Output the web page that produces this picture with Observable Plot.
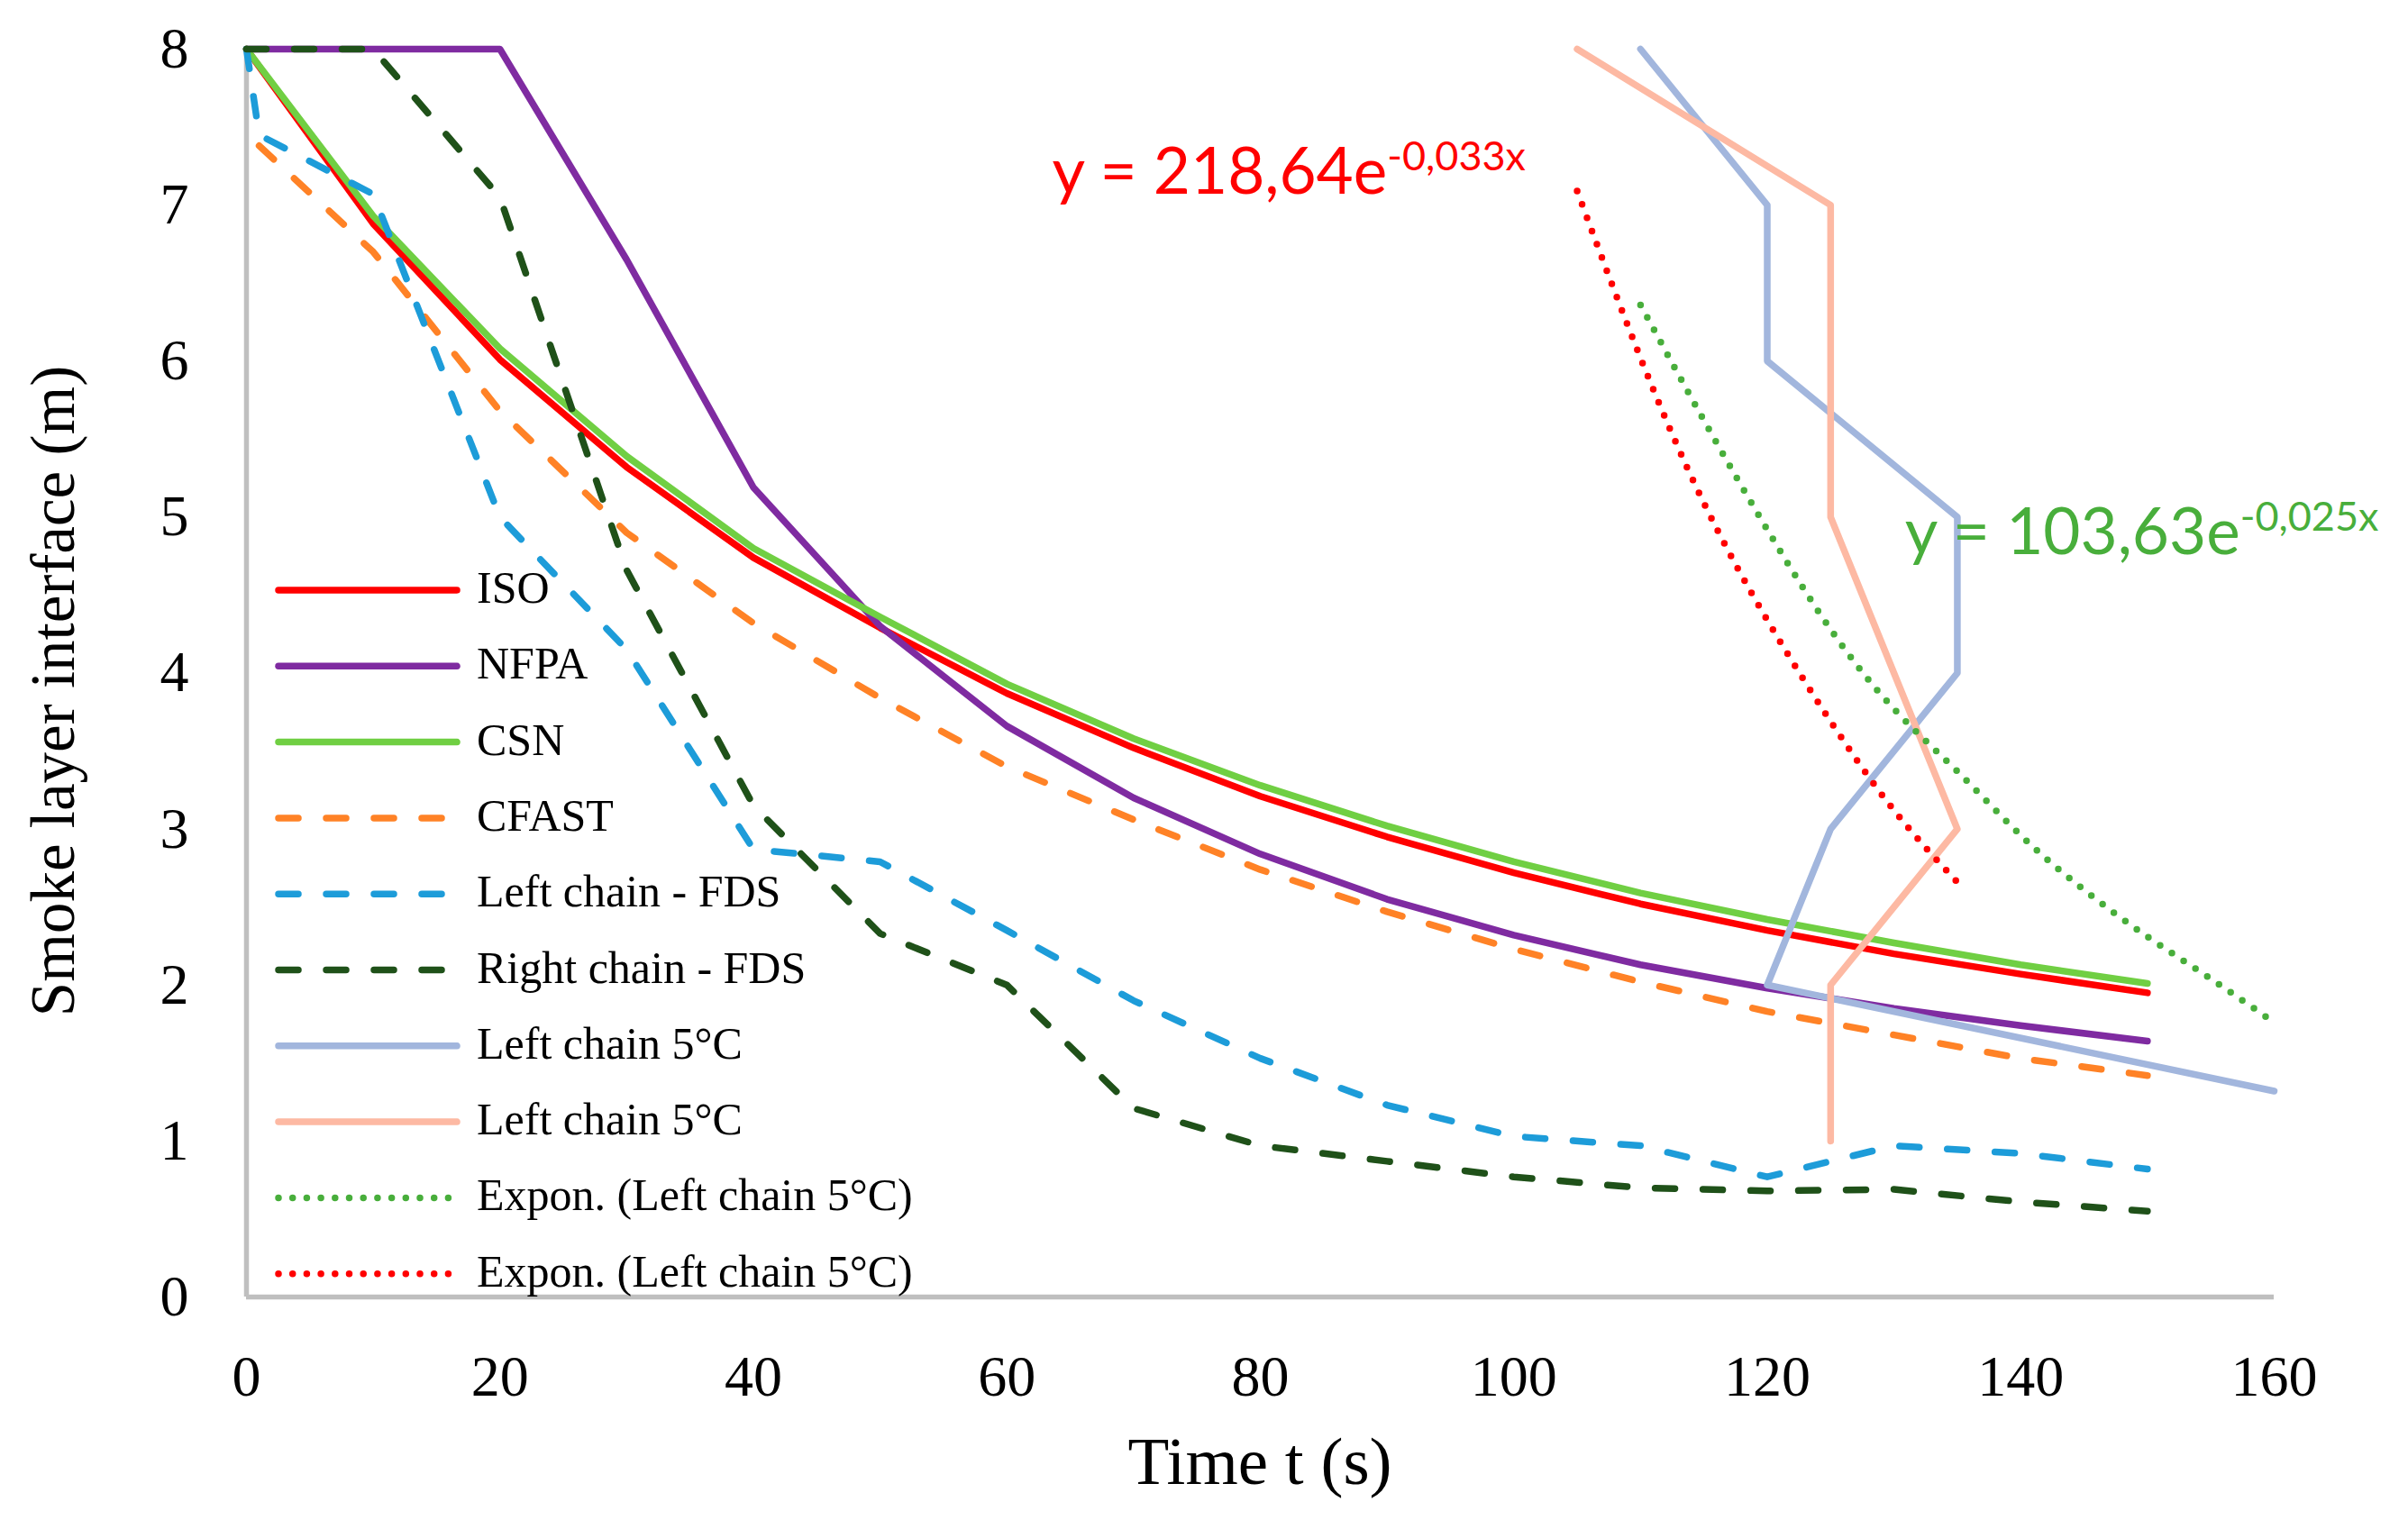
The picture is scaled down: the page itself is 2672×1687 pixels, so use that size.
<!DOCTYPE html>
<html>
<head>
<meta charset="utf-8">
<script src="https://cdn.jsdelivr.net/npm/d3@7"></script>
<script src="https://cdn.jsdelivr.net/npm/@observablehq/plot@0.6"></script>
<style>
  html, body { margin: 0; padding: 0; background: #ffffff; overflow: hidden; }
  #chart svg { display: block; }
</style>
</head>
<body>
<div id="chart"></div>
<script>
// ---------- data ----------
const timeStd   = [0, 10, 20, 30, 40, 50, 60, 70, 80, 90, 100, 110, 120, 130, 140, 150];
const isoY      = [8, 6.88, 6.01, 5.32, 4.74, 4.29, 3.87, 3.52, 3.21, 2.95, 2.72, 2.52, 2.35, 2.20, 2.07, 1.95];
const nfpaY     = [8, 8, 8, 6.65, 5.19, 4.30, 3.66, 3.20, 2.84, 2.55, 2.32, 2.13, 1.98, 1.85, 1.74, 1.64];
const csnY      = [8, 6.93, 6.08, 5.39, 4.80, 4.36, 3.93, 3.58, 3.28, 3.02, 2.79, 2.59, 2.42, 2.27, 2.13, 2.01];
const cfastT    = [1, 10, 20, 30, 40, 50, 60, 70, 80, 90, 100, 110, 120, 130, 140, 150];
const cfastY    = [7.38, 6.70, 5.68, 4.90, 4.32, 3.84, 3.40, 3.06, 2.74, 2.47, 2.23, 2.02, 1.83, 1.68, 1.53, 1.42];
const leftFdsT  = [0, 1, 10, 20, 30, 40, 50, 60, 70, 80, 90, 100, 110, 120, 130, 140, 150];
const leftFdsY  = [8, 7.45, 7.07, 5.00, 4.15, 2.87, 2.79, 2.35, 1.90, 1.53, 1.23, 1.03, 0.97, 0.77, 0.97, 0.92, 0.82];
const rightFdsY = [8, 8, 7.05, 4.66, 3.15, 2.33, 2.00, 1.21, 0.97, 0.87, 0.77, 0.70, 0.68, 0.69, 0.61, 0.55];
const left5BlueT = [110, 120, 120, 135, 135, 125, 120, 160];
const left5BlueY = [8, 7, 6, 5, 4, 3, 2, 1.32];
const left5SalmonT = [105, 125, 125, 135, 125, 125];
const left5SalmonY = [8, 7, 5, 3, 2, 1];
const expGreenT = [110, 115, 120, 125, 130, 135, 140, 145, 150, 155, 160];
const expGreenY = [6.36, 5.62, 4.92, 4.28, 3.77, 3.37, 2.96, 2.61, 2.31, 2.04, 1.76];
const expRedT   = [105, 110, 115, 120, 125, 130, 135];
const expRedY   = [7.09, 6.02, 5.09, 4.34, 3.69, 3.12, 2.66];

const xTicks = [0, 20, 40, 60, 80, 100, 120, 140, 160];
const yTicks = [0, 1, 2, 3, 4, 5, 6, 7, 8];

const seriesNames = ["ISO", "NFPA", "CSN", "CFAST", "Left chain - FDS", "Right chain - FDS",
                     "Left chain 5°C", "Left chain 5°C", "Expon. (Left chain 5°C)", "Expon. (Left chain 5°C)"];
const seriesColors = ["#ff0000", "#7f2ba1", "#70cf43", "#ff8226", "#1d9cd9", "#1f5119",
                      "#a2b6dd", "#fdb9a3", "#48ae3b", "#ff0000"];
const seriesStyles = ["solid", "solid", "solid", "dash", "dash", "dash", "solid", "solid", "dot", "dot"];

const equations = [
  { base: "y = 218,64e", sup: "-0,033x", t: 63.6, y: 7.07, color: "#ff0000" },
  { base: "y = 103,63e", sup: "-0,025x", t: 130.9, y: 4.76, color: "#48ae3b" }
];

// ---------- build ----------
const W = 2672, H = 1687;
const SW = 7.5;
const dashArr = {solid: null, dash: "22,31", dot: "0,15.7"};
const serif = "'Liberation Serif', 'DejaVu Serif', serif";

function pts(ts, ys) { return ts.map((t, i) => ({ t, y: ys[i] })); }
const seriesData = [
  pts(timeStd, isoY), pts(timeStd, nfpaY), pts(timeStd, csnY), pts(cfastT, cfastY),
  pts(leftFdsT, leftFdsY), pts(timeStd, rightFdsY), pts(left5BlueT, left5BlueY),
  pts(left5SalmonT, left5SalmonY), pts(expGreenT, expGreenY), pts(expRedT, expRedY)
];

const lineMarks = seriesData.map((d, i) => Plot.line(d, {
  x: "t", y: "y",
  stroke: seriesColors[i],
  strokeWidth: SW,
  strokeDasharray: dashArr[seriesStyles[i]],
  strokeLinecap: "round",
  strokeLinejoin: "round",
  curve: seriesStyles[i] === "dot" ? "natural" : "linear"
}));

const chart = Plot.plot({
  width: W, height: H,
  marginLeft: 273, marginRight: 149, marginTop: 54, marginBottom: 248,
  style: { fontFamily: serif, background: "#ffffff", color: "#000000", overflow: "visible" },
  x: { domain: [0, 160], label: null },
  y: { domain: [0, 8], label: null },
  marks: [
    Plot.axisX(xTicks, { tickSize: 0, tickPadding: 64, fontSize: 64, label: null, tickFormat: d => String(d) }),
    Plot.axisY(yTicks, { tickSize: 0, tickPadding: 64, fontSize: 64, label: null, tickFormat: d => String(d) }),
    Plot.ruleY([0], { stroke: "#bfbfbf", strokeWidth: 5.5 }),
    Plot.ruleX([0], { stroke: "#bfbfbf", strokeWidth: 5.5 }),
    ...lineMarks
  ]
});

document.getElementById("chart").appendChild(chart);
const svg = d3.select(chart);
const sx = chart.scale("x"), sy = chart.scale("y");

// axis titles
svg.append("text")
  .attr("x", (sx.apply(0) + sx.apply(160)) / 2).attr("y", 1647)
  .attr("text-anchor", "middle")
  .attr("font-family", serif)
  .attr("font-size", 75).attr("fill", "#000")
  .text("Time t (s)");
svg.append("text")
  .attr("transform", "translate(82,767) rotate(-90)")
  .attr("text-anchor", "middle")
  .attr("font-family", serif)
  .attr("font-size", 69).attr("fill", "#000")
  .text("Smoke layer interface (m)");

// equations
equations.forEach(e => {
  const t = svg.append("text")
    .attr("x", sx.apply(e.t)).attr("y", sy.apply(e.y))
    .attr("text-anchor", "start")
    .attr("font-family", "Lato, 'Open Sans', sans-serif")
    .attr("fill", e.color);
  t.append("tspan").attr("font-size", 71).text(e.base);
  t.append("tspan").attr("font-size", 45).attr("dy", -26).text(e.sup);
});

// legend (inside plot, lower left)
const lg = svg.append("g");
seriesNames.forEach((name, i) => {
  const yy = 655 + 84.3 * i;
  lg.append("line")
    .attr("x1", 309).attr("x2", 507).attr("y1", yy).attr("y2", yy)
    .attr("stroke", seriesColors[i]).attr("stroke-width", SW)
    .attr("stroke-linecap", "round")
    .attr("stroke-dasharray", dashArr[seriesStyles[i]]);
  lg.append("text")
    .attr("x", 529).attr("y", yy + 14)
    .attr("text-anchor", "start")
    .attr("font-family", serif)
    .attr("font-size", 50).attr("fill", "#000")
    .text(name);
});
</script>
</body>
</html>
